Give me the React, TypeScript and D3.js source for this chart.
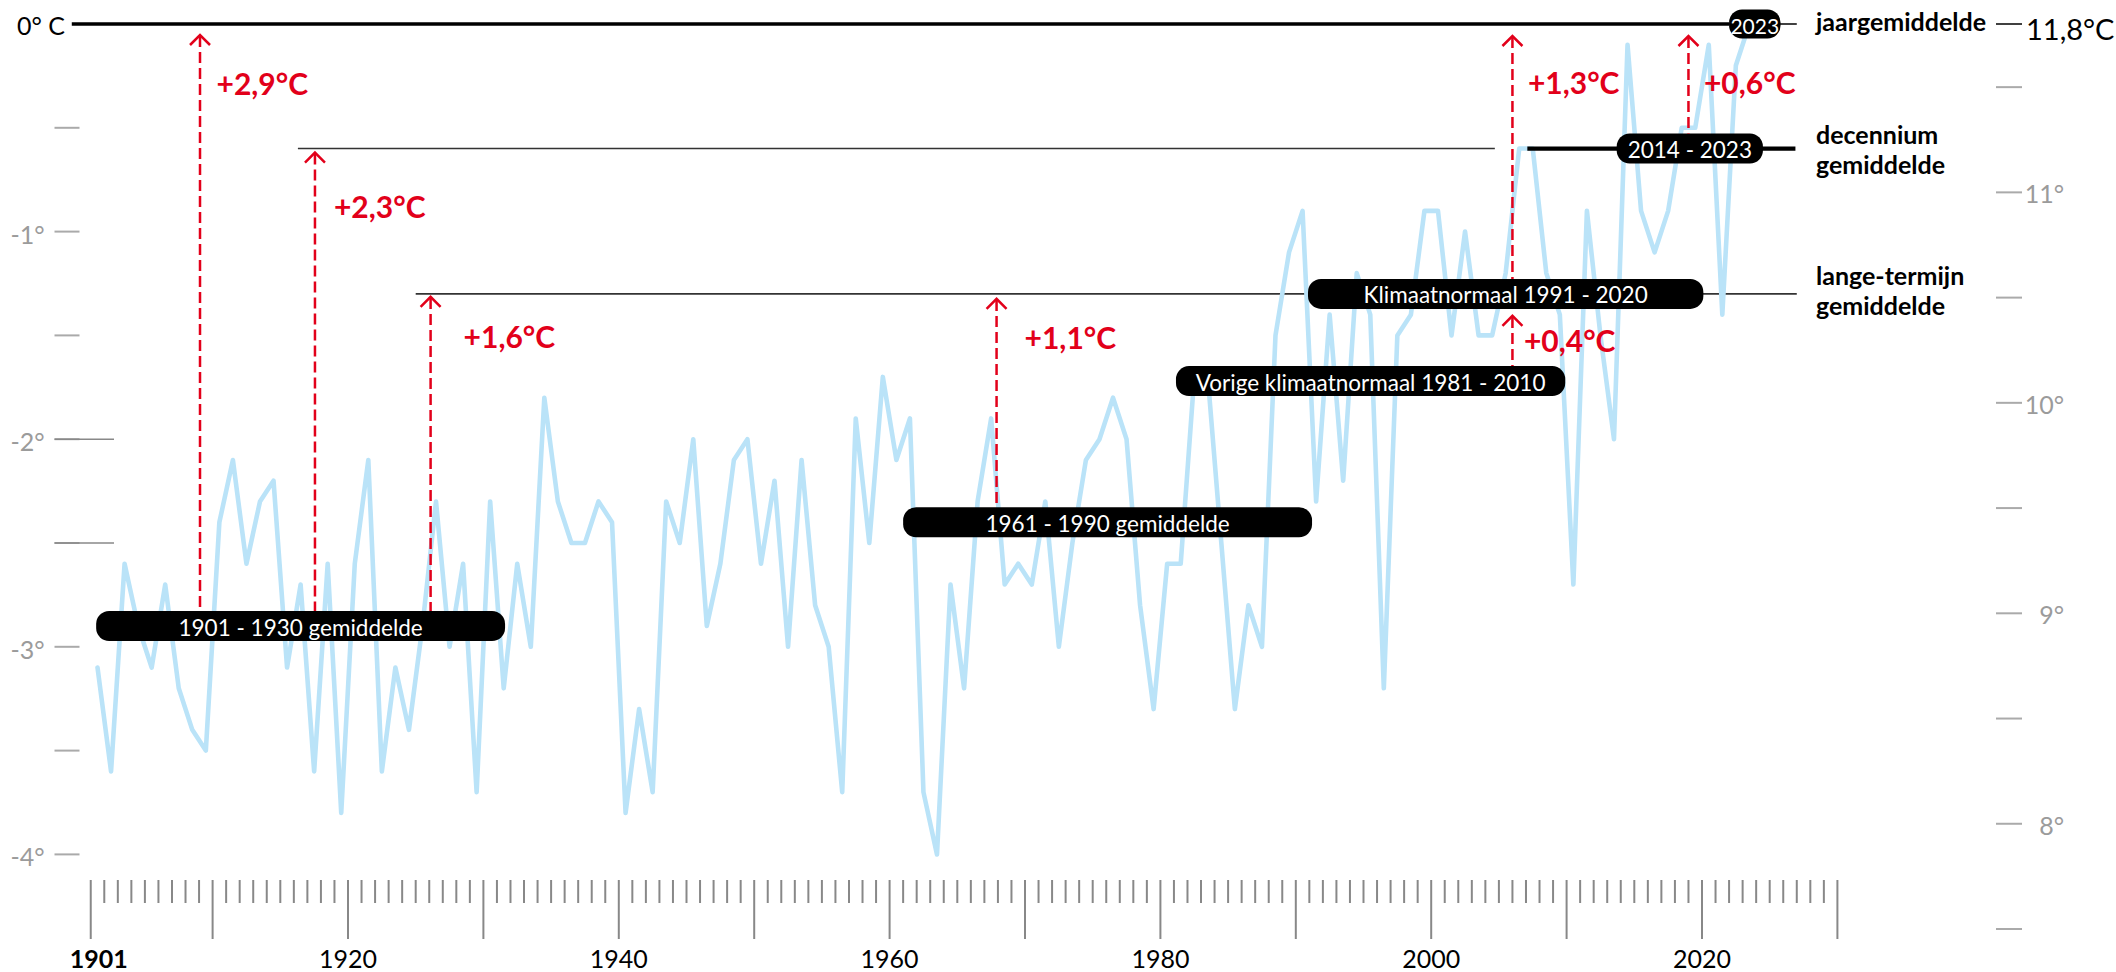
import React from "react";
import * as d3 from "d3";

// ---------- DATA ----------
const years: number[] = d3.range(1901, 2024);
// difference with 2023 annual mean (°C)
const annualDiff: number[] = [
  -3.1, -3.6, -2.6, -2.9, -3.1, -2.7, -3.2, -3.4, -3.5, -2.4, // 1901-1910
  -2.1, -2.6, -2.3, -2.2, -3.1, -2.7, -3.6, -2.6, -3.8, -2.6, // 1911-1920
  -2.1, -3.6, -3.1, -3.4, -2.9, -2.3, -3.0, -2.6, -3.7, -2.3, // 1921-1930
  -3.2, -2.6, -3.0, -1.8, -2.3, -2.5, -2.5, -2.3, -2.4, -3.8, // 1931-1940
  -3.3, -3.7, -2.3, -2.5, -2.0, -2.9, -2.6, -2.1, -2.0, -2.6, // 1941-1950
  -2.2, -3.0, -2.1, -2.8, -3.0, -3.7, -1.9, -2.5, -1.7, -2.1, // 1951-1960
  -1.9, -3.7, -4.0, -2.7, -3.2, -2.3, -1.9, -2.7, -2.6, -2.7, // 1961-1970
  -2.3, -3.0, -2.5, -2.1, -2.0, -1.8, -2.0, -2.8, -3.3, -2.6, // 1971-1980
  -2.6, -1.7, -1.7, -2.5, -3.3, -2.8, -3.0, -1.5, -1.1, -0.9, // 1981-1990
  -2.3, -1.4, -2.2, -1.2, -1.4, -3.2, -1.5, -1.4, -0.9, -0.9, // 1991-2000
  -1.5, -1.0, -1.5, -1.5, -1.2, -0.6, -0.6, -1.2, -1.4, -2.7, // 2001-2010
  -0.9, -1.5, -2.0, -0.1, -0.9, -1.1, -0.9, -0.5, -0.5, -0.1, // 2011-2020
  -1.4, -0.2, 0.0, // 2021-2023
];

const leftTickValues = [-0.5, -1, -1.5, -2, -2.5, -3, -3.5, -4];
const leftLabelValues = [-1, -2, -3, -4];
const leftLabelTexts = ["-1°", "-2°", "-3°", "-4°"];
const rightTickValues = [11.5, 11, 10.5, 10, 9.5, 9, 8.5, 8, 7.5];
const rightLabelValues = [11, 10, 9, 8];
const rightLabelTexts = ["11°", "10°", "9°", "8°"];
const xTickYears: number[] = d3.range(1901, 2031);
const xLabelYears = [1920, 1940, 1960, 1980, 2000, 2020];

// period means (pills)
const periodLabels = [
  "1901 - 1930 gemiddelde",
  "1961 - 1990 gemiddelde",
  "Vorige klimaatnormaal 1981 - 2010",
  "Klimaatnormaal 1991 - 2020",
  "2014 - 2023",
  "2023",
];
const periodStart = [1901.4, 1961.0, 1981.15, 1990.9, 2013.7, 2022.0];
const periodEnd = [1931.6, 1991.2, 2009.9, 2020.1, 2024.5, 2025.8];
const periodMean = [-2.9, -2.4, -1.72, -1.3, -0.6, 0];

// rises (red arrows)
const riseLabels = ["+2,9°C", "+2,3°C", "+1,6°C", "+1,1°C", "+1,3°C", "+0,4°C", "+0,6°C"];
const riseYear = [1909.07, 1917.56, 1926.1, 1967.9, 2006.0, 2006.0, 2019.0];
const riseFrom = [-2.9, -2.9, -2.9, -2.4, -1.3, -1.72, -0.6];
const riseTo = [0, -0.6, -1.3, -1.3, 0, -1.3, 0];
const riseLabelValue = [-0.342, -0.934, -1.561, -1.566, -0.337, -1.578, -0.337];

// reference lines
const yearMeanValue = 0;
const decadeMeanValue = -0.6;
const longTermValue = -1.3;

const RED = "#e2001a";
const BLUE = "#bae3f8";
const GREY_TXT = "#9b9b9b";
const FONT = "Lato, 'Open Sans', 'DejaVu Sans', sans-serif";

export default function App() {
  const W = 2116;
  const H = 972;
  const x = d3.scaleLinear().domain([1920, 2020]).range([348, 1702]);
  const yL = d3.scaleLinear().domain([0, -4]).range([24, 854.4]);
  const yR = d3.scaleLinear().domain([11.8, 7.5]).range([24, 929]);

  const pts = years.map((yr, i) => ({ yr, v: annualDiff[i] }));
  const line = d3
    .line<{ yr: number; v: number }>()
    .x((d) => x(d.yr + 0.5))
    .y((d) => yL(d.v));

  const pillH = 30;
  const tipGap = [11, 4, 3, 5, 12, 22, 12];
  const labelDx = [16.5, 19, 33, 28, 15.5, 11.5, 15.5];

  return (
    <div style={{ position: "absolute", left: 0, top: 0, width: W, height: H, background: "#fff" }}>
      <svg width={W} height={H} style={{ display: "block" }} fontFamily={FONT}>
        <rect width={W} height={H} fill="#fff" />

        {/* left axis ticks */}
        {leftTickValues.map((v) => (
          <line key={"lt" + v} x1={54.5} x2={79.5} y1={yL(v)} y2={yL(v)} stroke="#aaa" strokeWidth={2} />
        ))}
        {[-2, -2.5].map((v) => (
          <line key={"lte" + v} x1={54.5} x2={114} y1={yL(v)} y2={yL(v)} stroke="#888" strokeWidth={1.5} />
        ))}
        {leftLabelValues.map((v, i) => (
          <text key={"ll" + v} x={44.6} y={yL(v) + 2} textAnchor="end" dominantBaseline="central" fontSize={25} fill={GREY_TXT}>
            {leftLabelTexts[i]}
          </text>
        ))}
        <text x={65} y={35} textAnchor="end" fontSize={25} fill="#000">0° C</text>

        {/* right axis */}
        {rightTickValues.map((v) => (
          <line key={"rt" + v} x1={1996} x2={2022} y1={yR(v)} y2={yR(v)} stroke="#aaa" strokeWidth={2} />
        ))}
        <line x1={1996} x2={2022} y1={yR(11.8)} y2={yR(11.8)} stroke="#000" strokeWidth={1.5} />
        {rightLabelValues.map((v, i) => (
          <text key={"rl" + v} x={2064} y={yR(v) + 1} textAnchor="end" dominantBaseline="central" fontSize={25} fill={GREY_TXT}>
            {rightLabelTexts[i]}
          </text>
        ))}
        <text x={2026} y={40} fontSize={29} fill="#000">11,8°C</text>

        {/* x axis */}
        {xTickYears.map((yr) => {
          const major = yr % 10 === 0 || yr === 1901;
          return (
            <line key={"xt" + yr} x1={x(yr)} x2={x(yr)} y1={880} y2={major ? 939 : 903} stroke="#888" strokeWidth={2} />
          );
        })}
        <text x={x(1901.6)} y={968} textAnchor="middle" fontSize={25} fontWeight={700} fill="#000">1901</text>
        {xLabelYears.map((yr) => (
          <text key={"xl" + yr} x={x(yr)} y={968} textAnchor="middle" fontSize={25} fill="#000">{yr}</text>
        ))}

        {/* reference lines */}
        <line x1={x(1916.3)} x2={x(2004.7)} y1={yL(decadeMeanValue)} y2={yL(decadeMeanValue)} stroke="#333" strokeWidth={1.6} />
        <line x1={x(1925.0)} x2={x(2027.0)} y1={yL(longTermValue)} y2={yL(longTermValue)} stroke="#333" strokeWidth={1.6} />

        {/* annual line */}
        <path d={line(pts) || ""} fill="none" stroke={BLUE} strokeWidth={4.6} strokeLinejoin="round" strokeLinecap="round" />

        <line x1={x(1899.6)} x2={x(2022.0)} y1={yL(yearMeanValue)} y2={yL(yearMeanValue)} stroke="#000" strokeWidth={3.4} />
        <line x1={x(2022.0)} x2={x(2027.0)} y1={yL(yearMeanValue)} y2={yL(yearMeanValue)} stroke="#000" strokeWidth={1.6} />
        <line x1={x(2007.1)} x2={x(2026.9)} y1={yL(decadeMeanValue)} y2={yL(decadeMeanValue)} stroke="#000" strokeWidth={4.2} />

        {/* pills */}
        {periodLabels.map((lab, i) => {
          const x0 = x(periodStart[i]);
          const x1 = x(periodEnd[i]);
          const cy = yL(periodMean[i]);
          const h = i === 5 ? 29 : pillH;
          return (
            <g key={"p" + i}>
              <rect x={x0} y={cy - h / 2} width={x1 - x0} height={h} rx={13} ry={13} fill="#000" />
              <text x={(x0 + x1) / 2} y={cy + 1} textAnchor="middle" dominantBaseline="central" fontSize={i === 5 ? 21 : 22.5} fill="#fff">
                {lab}
              </text>
            </g>
          );
        })}

        {/* red arrows */}
        {riseLabels.map((lab, i) => {
          const ax = x(riseYear[i]);
          const tip = yL(riseTo[i]) + tipGap[i];
          const bottom = yL(riseFrom[i]) - pillH / 2;
          return (
            <g key={"a" + i}>
              <line x1={ax} x2={ax} y1={tip + 1} y2={bottom} stroke={RED} strokeWidth={2.5} strokeDasharray="11 5" />
              <polyline points={`${ax - 10},${tip + 10} ${ax},${tip} ${ax + 10},${tip + 10}`} fill="none" stroke={RED} strokeWidth={2.5} />
              <text x={ax + labelDx[i]} y={yL(riseLabelValue[i])} fontSize={30} fontWeight={700} fill={RED}>
                {lab}
              </text>
            </g>
          );
        })}

        {/* right labels */}
        <text x={1816} y={31} fontSize={25} fontWeight={700} fill="#000">jaargemiddelde</text>
        <text x={1816} y={144} fontSize={25} fontWeight={700} fill="#000">decennium</text>
        <text x={1816} y={174} fontSize={25} fontWeight={700} fill="#000">gemiddelde</text>
        <text x={1816} y={285} fontSize={25} fontWeight={700} fill="#000">lange-termijn</text>
        <text x={1816} y={315} fontSize={25} fontWeight={700} fill="#000">gemiddelde</text>
      </svg>
    </div>
  );
}
